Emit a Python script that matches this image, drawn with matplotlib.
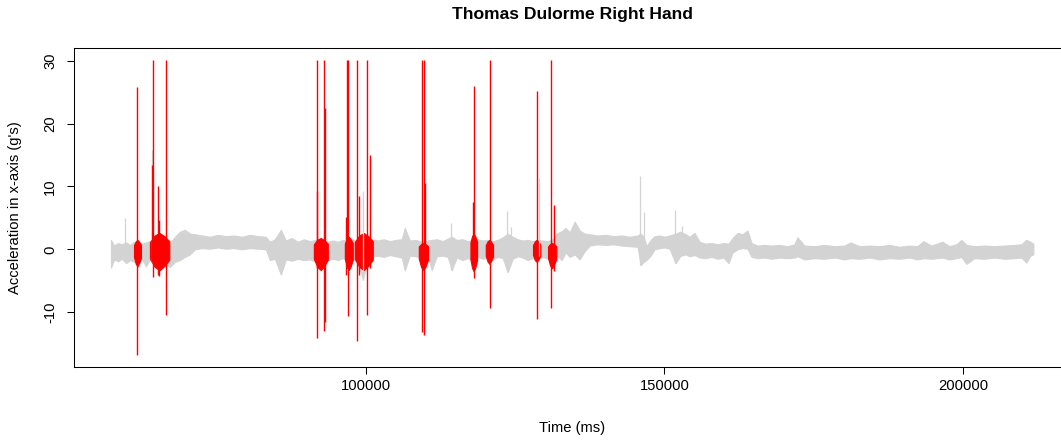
import numpy as np
import matplotlib
matplotlib.use("Agg")
import matplotlib.pyplot as plt

plt.rcParams['font.family'] = ['Liberation Sans', 'DejaVu Sans']
plt.rcParams['axes.unicode_minus'] = False

# grey background signal: envelope (ms, low g, high g)
env_t = [57340, 57840, 58510, 59180, 59850, 60520, 61190, 61860, 62520, 63190,
         63860, 64700, 65540, 66370, 67210, 68050, 68880, 69720, 70560, 71390,
         72560, 73900, 75240, 76580, 77920, 79250, 80590, 81930, 83270, 83940,
         84780, 85780, 86620, 87620, 88620, 89630, 90630, 91640, 92640, 93640,
         94480, 95320, 96150, 96990, 97820, 98660, 99500, 100330, 101170, 102010,
         103010, 104020, 105020, 106020, 106520, 107360, 108370, 109370, 110370, 111040,
         111880, 112880, 113720, 114390, 115220, 116230, 117060, 117900, 118740, 119570,
         120410, 121250, 122080, 122920, 123760, 124590, 125430, 126270, 127100, 127940,
         128780, 129610, 130450, 131290, 131950, 132790, 133460, 134130, 134970, 135800,
         136640, 137480, 138810, 140150, 141490, 142830, 144170, 145510, 146010, 146510,
         147010, 147680, 148350, 149190, 150020, 150860, 151860, 152700, 153540, 154210,
         155040, 155880, 156880, 157890, 158890, 159890, 160730, 161400, 162240, 163070,
         163910, 164580, 165580, 166750, 167920, 169260, 170600, 171770, 172270, 173440,
         175120, 176790, 178460, 180140, 181140, 182650, 184320, 185990, 187670, 189340,
         191010, 192350, 193350, 194690, 196530, 197700, 198870, 199710, 200550, 201890,
         203560, 205230, 206910, 208580, 209750, 210590, 211250, 211760]
env_lo = [-2.9, -1.6, -1.9, -1.5, -2.2, -1.7, -2.0, -1.8, -1.5, -2.7,
          -1.6, -2.0, -1.8, -2.2, -2.8, -2.0, -1.7, -1.2, -0.8, 0.0,
          0.2, 0.1, 0.3, 0.1, 0.2, 0.0, 0.2, 0.1, 0.0, -1.7,
          -1.5, -4.0, -1.6, -1.8, -1.5, -1.7, -1.6, -2.0, -1.8, -1.7,
          -1.5, -1.7, -1.4, -1.7, -1.6, -2.0, -4.8, -1.8, -1.2, -1.0,
          -1.2, -0.9, -1.1, -1.3, -3.3, -1.0, -1.1, -1.4, -1.0, -3.3,
          -1.1, -1.0, -1.2, -3.3, -1.3, -1.7, -1.4, -1.8, -1.2, -1.5,
          -1.3, -1.6, -1.2, -1.4, -3.6, -1.5, -1.1, -1.3, -1.7, -1.4,
          -1.6, -1.2, -1.5, -2.0, -1.0, -1.7, -0.5, -1.2, -0.8, -1.6,
          -0.3, 0.6, 0.8, 0.7, 0.8, 0.6, 0.5, 0.4, -2.5, -2.0,
          -1.7, -1.0, 0.0, 0.2, 0.3, 0.1, -2.2, -1.0, -0.8, -1.1,
          -0.9, -1.3, -1.4, -1.2, -1.5, -1.3, -2.2, -0.5, 0.0, 0.2,
          0.1, -1.2, -1.4, -1.3, -1.5, -1.3, -1.4, -1.3, -1.1, -1.6,
          -1.4, -1.5, -1.3, -1.6, -1.4, -1.5, -1.3, -1.6, -1.4, -1.5,
          -1.3, -1.6, -1.4, -1.5, -1.3, -1.6, -1.4, -1.2, -2.3, -1.4,
          -1.5, -1.3, -1.5, -1.4, -1.3, -2.1, -1.0, -0.8]
env_hi = [1.5, 0.6, 1.0, 0.8, 1.1, 0.7, 1.2, 1.0, 0.9, 1.1,
          1.3, 1.0, 1.4, 1.2, 1.0, 2.0, 2.8, 3.1, 2.5, 2.4,
          2.2, 2.0, 2.3, 2.1, 2.2, 2.0, 2.3, 2.1, 2.0, 1.2,
          1.6, 3.1, 1.4, 1.8, 1.2, 1.6, 1.3, 1.5, 1.5, 1.2,
          1.4, 1.2, 1.5, 1.3, 1.6, 1.3, 2.0, 1.5, 1.6, 1.4,
          1.6, 1.3, 1.5, 1.6, 3.4, 1.4, 1.5, 1.2, 1.4, 1.5,
          1.6, 1.3, 1.7, 2.0, 1.5, 1.6, 1.3, 1.5, 1.6, 1.4,
          1.5, 1.3, 1.5, 1.9, 2.5, 2.0, 1.6, 1.4, 1.5, 1.3,
          1.5, 1.4, 1.3, 1.6, 2.5, 2.9, 3.4, 2.7, 4.4, 3.0,
          2.5, 2.4, 2.2, 2.3, 2.1, 2.2, 2.0, 2.2, 2.5, 2.0,
          0.5, 1.5, 2.1, 2.2, 2.0, 2.2, 2.5, 2.8, 2.4, 2.0,
          2.6, 1.2, 0.9, 1.0, 0.8, 1.0, 0.9, 1.8, 2.6, 2.4,
          3.0, 1.0, 0.6, 0.7, 0.6, 0.7, 0.5, 0.8, 1.9, 0.6,
          0.5, 0.7, 0.5, 0.6, 1.1, 0.5, 0.6, 0.5, 0.7, 0.4,
          0.6, 0.5, 1.3, 0.6, 1.2, 0.5, 0.8, 1.5, 0.7, 0.5,
          0.6, 0.5, 0.6, 0.7, 0.8, 1.5, 1.2, 0.9]

# isolated grey spikes
grey_t = [59730, 64250, 99450, 106520, 114340, 123700, 124260, 128970,
          145960, 146560, 151810, 152980]
grey_lo = [-1.0, -2.0, -4.8, -3.3, -3.3, -3.6, -1.5, -1.0,
           -2.5, -1.5, -2.2, -1.0]
grey_hi = [5.0, 15.8, 9.2, 3.4, 4.2, 6.1, 3.5, 11.4,
           11.7, 6.0, 6.3, 3.7]

# red shot bursts: dense core
burst_start = [61190, 63860, 91300, 96490, 98160, 108870, 117520, 120080, 127990, 130500]
burst_end = [62360, 67100, 93640, 97820, 101170, 110420, 118630, 121300, 129230, 131900]
burst_lo = [-2.7, -3.3, -3.3, -3.3, -3.3, -3.3, -3.5, -2.3, -2.0, -3.0]
burst_hi = [1.5, 2.6, 1.8, 2.0, 2.6, 1.0, 2.5, 1.5, 1.5, 1.0]

# red spikes inside the bursts
red_t = [61740, 64420, 64250, 65150, 65420, 66540,
         91800, 91900, 93020, 93140,
         96650, 96770, 97100,
         98490, 98830, 100220, 100620,
         109420, 109820, 109870,
         117960, 118070,
         120750,
         128660,
         131070, 131500]
red_lo = [-16.8, -4.4, -2.0, -4.0, -4.2, -10.5,
          -14.1, -3.0, -13.0, -11.5,
          -4.0, -3.0, -10.6,
          -14.5, -4.0, -10.4, -3.0,
          -13.2, -13.6, -3.0,
          -2.0, -4.6,
          -9.4,
          -11.1,
          -9.4, -3.5]
red_hi = [25.8, 30.1, 13.4, 10.1, 4.7, 30.1,
          30.1, 9.2, 30.1, 22.5,
          5.2, 30.1, 30.1,
          30.1, 8.4, 30.1, 15.0,
          30.1, 30.1, 10.6,
          7.6, 25.9,
          30.1,
          25.1,
          30.1, 7.1]

x_ticks = [100000, 150000, 200000]
y_ticks = [-10, 0, 10, 20, 30]

W, H = 1061, 440
fig = plt.figure(figsize=(W / 100, H / 100), dpi=100)
ax = fig.add_axes([74 / W, (H - 367) / H, 997 / W, 319 / H])

grey = '#D3D3D3'
ax.fill_between(env_t, env_lo, env_hi, color=grey, lw=0.8)
ax.vlines(grey_t, grey_lo, grey_hi, color=grey, lw=0.9)

# bursts drawn as tapered blobs (full height in the middle, lower at the edges)
shape = np.array([0.45, 0.85, 1.0, 0.8, 0.5])
for s, e, lo, hi in zip(burst_start, burst_end, burst_lo, burst_hi):
    xs = np.linspace(s, e, len(shape))
    ax.fill_between(xs, lo * shape, hi * shape, color='red', lw=0.8)
ax.vlines(red_t, red_lo, red_hi, color='red', lw=1.0)

ax.set_xlim(51148, 218062)
ax.set_ylim(-18.7, 32.0)
ax.set_xticks(x_ticks)
ax.set_xticklabels([str(v) for v in x_ticks])
ax.set_yticks(y_ticks)
ax.set_yticklabels([str(v) for v in y_ticks], rotation=90, va='center')

for sp in ax.spines.values():
    sp.set_linewidth(0.75)
    sp.set_color('black')
ax.tick_params(axis='both', length=5.2, width=0.75, labelsize=10.6, direction='out')
ax.tick_params(axis='x', pad=3.5)
ax.tick_params(axis='y', pad=7)

fig.text(572.5 / W, 1 - 14 / H, "Thomas Dulorme Right Hand", ha='center', va='center',
         fontsize=12.6, fontweight='bold')
fig.text(572.5 / W, 1 - 428 / H, "Time (ms)", ha='center', va='center', fontsize=10.6)
fig.text(15 / W, 1 - 207.5 / H, "Acceleration in x-axis (g's)", ha='center', va='center',
         rotation=90, fontsize=10.6)

fig.savefig("out.png", dpi=100)
